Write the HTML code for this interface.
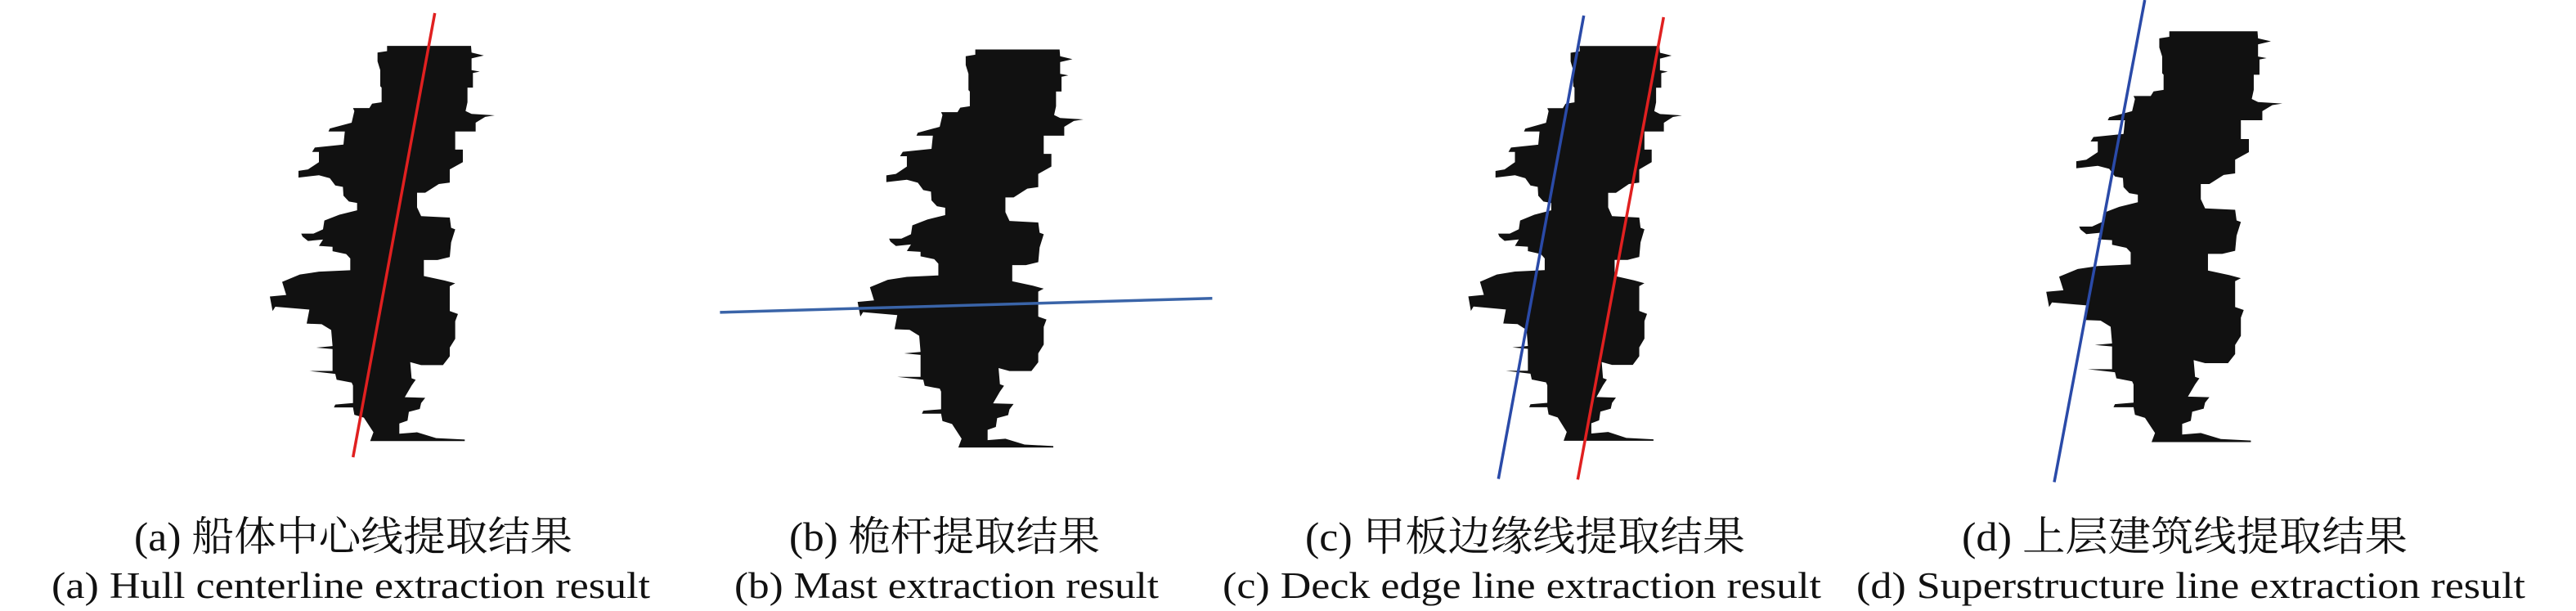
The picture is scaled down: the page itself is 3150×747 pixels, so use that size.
<!DOCTYPE html>
<html><head><meta charset="utf-8"><style>
html,body{margin:0;padding:0;background:#fff;}
svg{display:block;}
.zh{font-family:"Liberation Serif","Noto Serif CJK SC","Noto Sans CJK SC",serif;font-size:50px;fill:#111;}
.en{font-family:"Liberation Serif",serif;font-size:45px;fill:#111;}
</style></head><body>
<svg width="3150" height="747" viewBox="0 0 3150 747" xmlns="http://www.w3.org/2000/svg">
<defs>
<polygon id="ship" fill="#111" points="430,157 738,157 740,180 785,190 740,200 740,240 770,245 745,250 745,300 725,300 725,350 718,380 740,390 825,395 790,400 755,420 755,450 680,450 680,512 708,512 708,555 660,580 660,625 620,630 570,660 540,660 540,710 555,740 660,745 665,780 680,785 665,830 660,880 615,890 565,890 565,945 640,960 680,970 660,980 660,1065 690,1075 680,1100 680,1160 660,1190 660,1220 635,1250 555,1250 515,1240 520,1295 535,1300 520,1320 495,1360 570,1362 555,1380 550,1400 510,1410 505,1440 475,1450 475,1485 540,1480 610,1500 715,1505 715,1510 368,1510 380,1480 345,1430 310,1420 305,1395 235,1395 240,1385 305,1380 305,1320 300,1310 245,1300 240,1280 145,1270 230,1270 230,1195 170,1190 230,1185 225,1130 190,1110 135,1108 145,1060 20,1050 10,1065 0,1015 60,1010 45,965 110,940 180,930 295,925 295,885 280,870 230,860 230,845 180,842 195,820 140,825 120,810 115,800 160,800 195,785 200,755 255,735 320,720 320,695 290,690 270,670 268,640 240,635 220,610 180,600 105,608 105,585 140,580 180,555 180,520 155,520 165,505 270,495 275,450 215,450 220,440 300,420 310,380 305,370 365,370 375,355 410,350 410,300 405,295 405,240 395,210 395,180 430,175"/>
</defs>
<use href="#ship" transform="matrix(0.3333,0,0,0.3571,330,0)"/>
<use href="#ship" transform="matrix(0.3347,0,0,0.3597,1048.7,3.98)"/>
<use href="#ship" transform="matrix(0.3167,0,0,0.3567,1795.5,0.27)"/>
<use href="#ship" transform="matrix(0.35,0,0,0.3712,2502.2,-20)"/>

<line x1="531.7" y1="16" x2="431.7" y2="559" stroke="#e02020" stroke-width="3.5"/>
<line x1="880.4" y1="381.9" x2="1482.4" y2="364.7" stroke="#3a64a8" stroke-width="3.5"/>
<line x1="1936.7" y1="19.1" x2="1832.3" y2="585.5" stroke="#2a4aa8" stroke-width="3.5"/>
<line x1="2034.3" y1="21" x2="1929.3" y2="586.3" stroke="#e02020" stroke-width="3.5"/>
<line x1="2622.7" y1="0" x2="2512" y2="589.4" stroke="#2a4aa8" stroke-width="3.5"/>

<text class="zh" x="164" y="673" textLength="536" lengthAdjust="spacingAndGlyphs">(a) 船体中心线提取结果</text>
<text class="zh" x="965" y="673" textLength="380" lengthAdjust="spacingAndGlyphs">(b) 桅杆提取结果</text>
<text class="zh" x="1596" y="673" textLength="538" lengthAdjust="spacingAndGlyphs">(c) 甲板边缘线提取结果</text>
<text class="zh" x="2399" y="673" textLength="545" lengthAdjust="spacingAndGlyphs">(d) 上层建筑线提取结果</text>

<text class="en" x="63" y="731" textLength="732" lengthAdjust="spacingAndGlyphs">(a) Hull centerline extraction result</text>
<text class="en" x="898" y="731" textLength="519" lengthAdjust="spacingAndGlyphs">(b) Mast extraction result</text>
<text class="en" x="1495" y="731" textLength="732" lengthAdjust="spacingAndGlyphs">(c) Deck edge line extraction result</text>
<text class="en" x="2270" y="731" textLength="818" lengthAdjust="spacingAndGlyphs">(d) Superstructure line extraction result</text>
</svg>
</body></html>
